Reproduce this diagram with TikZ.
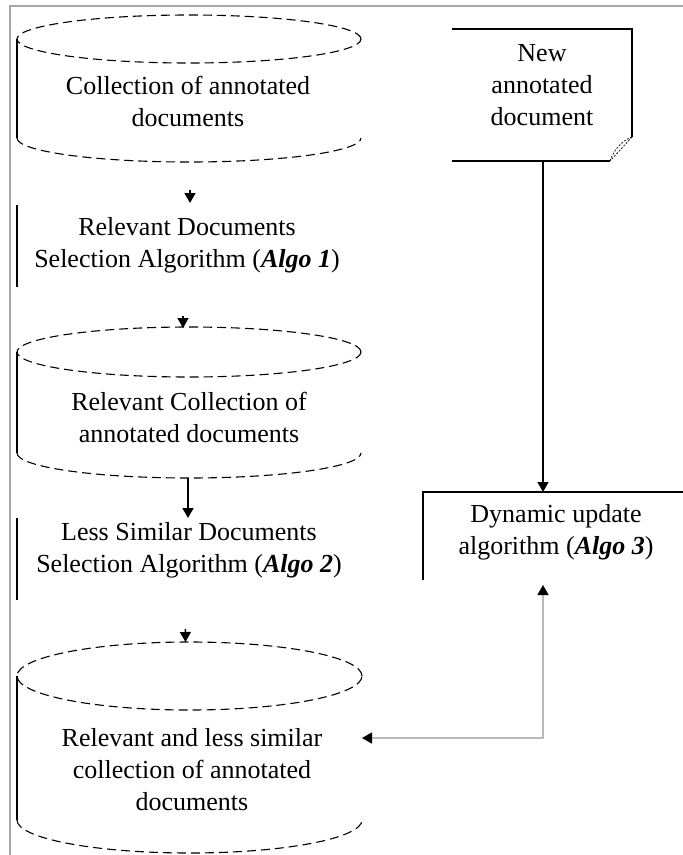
\documentclass[tikz,border=0pt]{standalone}
\usepackage{fontspec}
\setmainfont{Liberation Serif}
\usetikzlibrary{arrows.meta}
\begin{document}
\begin{tikzpicture}[x=1pt,y=-1pt,
  shapebox/.style={draw=none, inner sep=0pt, outer sep=0pt, rectangle},
  txt/.style={align=center, font=\fontsize{26}{32}\selectfont, inner sep=0pt},
  outline/.style={line width=1.5pt},
  rim/.style={line width=1.1pt, dash pattern=on 9pt off 5pt},
  fold/.style={line width=0.7pt, dash pattern=on 2pt off 1.5pt},
  arr/.style={line width=1.4pt, -{Triangle[length=10pt,width=11pt]}},
  feedback/.style={line width=1.4pt, draw=gray!55,
    {Triangle[length=10pt,width=11pt,color=black]}-{Triangle[length=10pt,width=11pt,color=black]}},
  frameline/.style={line width=1.2pt, draw=gray!70}]

\useasboundingbox (0,0) rectangle (683,855);

% outer frame (top and left edges)
\draw[frameline] (10,855) -- (10,6) -- (683,6);

% ---------- shape placeholders used as connector ends ----------
\node[shapebox, minimum width=344pt, minimum height=147pt] (cyl1) at (189,88.5) {};
\node[shapebox, minimum width=344pt, minimum height=84pt]  (algo1) at (189,245) {};
\node[shapebox, minimum width=344pt, minimum height=150pt] (cyl2) at (189,403) {};
\node[shapebox, minimum width=344pt, minimum height=82pt]  (algo2) at (189,559) {};
\node[shapebox, minimum width=345pt, minimum height=211pt] (cyl3) at (189.5,747.5) {};
\node[shapebox, minimum width=182pt, minimum height=132pt] (newdoc) at (543,95) {};
\node[shapebox, minimum width=240pt, minimum height=93pt]  (dyn) at (543,538.5) {};

% ---------- cylinder 1 ----------
\draw[rim] (189,39) ellipse [x radius=172pt, y radius=24pt];
\draw[outline] (17,39) -- (17,138);
\draw[rim] (17,138) arc[start angle=180, end angle=360, x radius=172pt, y radius=24pt];
\node[txt] (cyl1-text) at (188,101) {Collection of annotated\\documents};

% ---------- algorithm 1 ----------
\draw[outline] (17,205) -- (17,287);
\node[txt] (algo1-text) at (187,245) {Relevant Documents\\Selection Algorithm (\textbf{\textit{Algo 1}})};

% ---------- cylinder 2 ----------
\draw[rim] (189,352) ellipse [x radius=172pt, y radius=25pt];
\draw[outline] (17,352) -- (17,453);
\draw[rim] (17,453) arc[start angle=180, end angle=360, x radius=172pt, y radius=25pt];
\node[txt] (cyl2-text) at (189,417.5) {Relevant Collection of\\annotated documents};

% ---------- algorithm 2 ----------
\draw[outline] (17,518) -- (17,600);
\node[txt] (algo2-text) at (189,550) {Less Similar Documents\\Selection Algorithm (\textbf{\textit{Algo 2}})};

% ---------- cylinder 3 ----------
\draw[rim] (189.5,676) ellipse [x radius=172.5pt, y radius=34pt];
\draw[outline] (17,676) -- (17,820);
\draw[rim] (17,820) arc[start angle=180, end angle=360, x radius=172.5pt, y radius=33pt];
\node[txt] (cyl3-text) at (192,770) {Relevant and less similar\\collection of annotated\\documents};

% ---------- new annotated document (note with folded corner) ----------
\draw[outline] (452,29) -- (632,29) -- (632,137);
\draw[outline] (610,161) -- (452,161);
\draw[fold] (632,137) -- (610,161);
\draw[fold] (632,137) .. controls (623,140) and (614,149) .. (610,161);
\node[txt] (newdoc-text) at (542,85.5) {New\\annotated\\document};

% ---------- dynamic update ----------
\draw[outline] (423,580) -- (423,492) -- (683,492);
\node[txt] (dyn-text) at (556,532) {Dynamic update\\algorithm (\textbf{\textit{Algo 3}})};

% ---------- connectors ----------
\draw[arr, shorten <=28pt] ([xshift=1pt]cyl1.south) -- ([xshift=1pt]algo1.north);
\draw[arr, shorten <=29pt] ([xshift=-6pt]algo1.south) -- ([xshift=-6pt]cyl2.north);
\draw[arr] ([xshift=-1pt]cyl2.south) -- ([xshift=-1pt]algo2.north);
\draw[arr, shorten <=29pt] ([xshift=-4pt]algo2.south) -- ([xshift=-4pt]cyl3.north);
\draw[arr] (newdoc.south) -- (dyn.north);
\draw[feedback] ([yshift=9.5pt]cyl3.east) -| (dyn.south);

\end{tikzpicture}
\end{document}
